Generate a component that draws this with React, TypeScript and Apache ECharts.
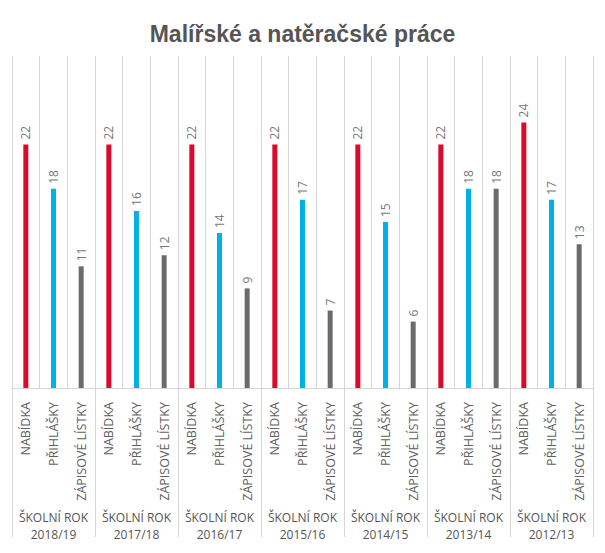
import React, { useEffect, useRef } from "react";
import * as echarts from "echarts";

const years = ["2018/19", "2017/18", "2016/17", "2015/16", "2014/15", "2013/14", "2012/13"];
const measures = ["NABÍDKA", "PŘIHLÁŠKY", "ZÁPISOVÉ LÍSTKY"];
const nabidka = [22, 22, 22, 22, 22, 22, 24];
const prihlasky = [18, 16, 14, 17, 15, 18, 17];
const zapisove = [11, 12, 9, 7, 6, 18, 13];
const colors = ["#db0a2c", "#00b1e5", "#6b6b6b"];
const yTicksMax = 30;

export default function App() {
  const ref = useRef<HTMLDivElement>(null);
  useEffect(() => {
    if (!ref.current) return;
    const chart = echarts.init(ref.current, null, { renderer: "svg" });
    const cats: string[] = [];
    const data: any[] = [];
    years.forEach((y, i) => {
      const vals = [nabidka[i], prihlasky[i], zapisove[i]];
      measures.forEach((m, j) => {
        cats.push(m);
        data.push({ value: vals[j], itemStyle: { color: colors[j] } });
      });
    });
    chart.setOption({
      animation: false,
      title: {
        text: "Malířské a natěračské práce",
        left: "center",
        top: 9,
        textStyle: { fontFamily: "Liberation Sans", fontWeight: "bold", fontSize: 23, color: "#555555" },
      },
      grid: { left: 4, right: 4, top: 48, bottom: 157 },
      xAxis: [
        {
          type: "category",
          data: cats,
          axisLine: { show: true, lineStyle: { color: "#d6d6d6" } },
          axisTick: { show: false },
          splitLine: { show: true, lineStyle: { color: "#d6d6d6", width: 1 } },
          axisLabel: {
            rotate: 90,
            interval: 0,
            margin: 14,
            color: "#606060",
            fontFamily: "Open Sans",
            fontSize: 12.5,
          },
        },
        {
          type: "category",
          data: years.map((y) => "ŠKOLNÍ ROK\n" + y),
          position: "bottom",
          axisLine: { show: false },
          axisTick: { show: true, length: 149, lineStyle: { color: "#d6d6d6" } },
          axisLabel: {
            interval: 0,
            margin: 121,
            color: "#555555",
            fontFamily: "Open Sans",
            fontSize: 12,
            lineHeight: 17,
          },
        },
      ],
      yAxis: { type: "value", min: 0, max: yTicksMax, show: false, splitLine: { show: false } },
      series: [
        {
          type: "bar",
          xAxisIndex: 0,
          data,
          barWidth: 5,
          label: {
            show: true,
            position: "top",
            rotate: 90,
            align: "left",
            verticalAlign: "middle",
            distance: 5,
            color: "#777777",
            fontFamily: "Open Sans",
            fontSize: 12,
          },
        },
      ],
    });
    return () => chart.dispose();
  }, []);
  return <div ref={ref} style={{ width: 589, height: 537 }} />;
}
